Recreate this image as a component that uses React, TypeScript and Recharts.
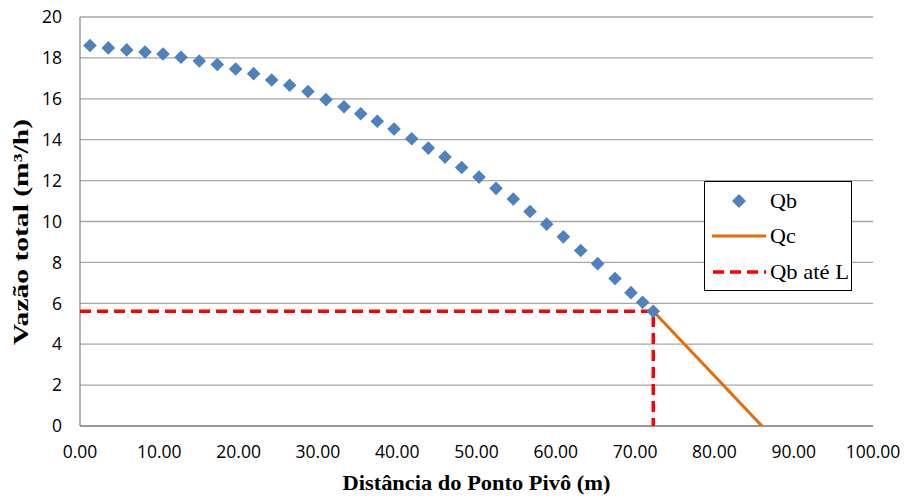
import React from 'react';
import {
  ScatterChart,
  Scatter,
  XAxis,
  YAxis,
  CartesianGrid,
  Legend
} from 'recharts';

// Qb - vazão por ponto ao longo da linha lateral
const qbDist = [
  1.26, 3.57, 5.89, 8.2, 10.47, 12.74, 15.04, 17.31, 19.63, 21.9, 24.17, 26.44,
  28.75, 31.02, 33.29, 35.4, 37.49, 39.6, 41.83, 43.92, 46.03, 48.13, 50.32,
  52.46, 54.64, 56.75, 58.85, 60.95, 63.14, 65.28, 67.47, 69.48, 70.95, 72.29
];
const qbVazao = [
  18.61, 18.49, 18.39, 18.29, 18.19, 18.03, 17.85, 17.68, 17.46, 17.23, 16.92,
  16.66, 16.36, 15.96, 15.61, 15.27, 14.9, 14.52, 14.05, 13.59, 13.15, 12.64,
  12.17, 11.62, 11.1, 10.49, 9.87, 9.25, 8.58, 7.94, 7.21, 6.52, 6.05, 5.61
];

// Qc - reta a partir de L
const qcDist = [72.29, 86.0];
const qcVazao = [5.61, 0];

// Qb até L - linhas tracejadas de referência
const refDist = [0, 72.29, 72.29];
const refVazao = [5.61, 5.61, 0];

const xTicks = [0, 10, 20, 30, 40, 50, 60, 70, 80, 90, 100];
const yTicks = [0, 2, 4, 6, 8, 10, 12, 14, 16, 18, 20];

const BLUE = '#4F81BD';
const ORANGE = '#E46C0A';
const RED = '#FF0000';
const TICK_FONT = '"Open Sans", sans-serif';
const TITLE_FONT = '"Liberation Serif", "Times New Roman", serif';

const toPoints = (xs: number[], ys: number[]) => xs.map((x, i) => ({ x, y: ys[i] }));

const qbData = toPoints(qbDist, qbVazao);
const qcData = toPoints(qcDist, qcVazao);
const refData = toPoints(refDist, refVazao);

const Diamond = (props: any) => {
  const { cx, cy } = props;
  if (cx == null || cy == null) return <g />;
  const r = 6.8;
  return (
    <path
      d={`M${cx},${cy - r}L${cx + r},${cy}L${cx},${cy + r}L${cx - r},${cy}Z`}
      fill={BLUE}
    />
  );
};

const NoShape = () => <g />;

const YTitle = () => (
  <text
    x={0}
    y={0}
    transform="translate(28, 232) rotate(-90)"
    textAnchor="middle"
    fontFamily={TITLE_FONT}
    fontWeight="bold"
    fontSize={21}
    fill="#000"
    textLength={226}
    lengthAdjust="spacingAndGlyphs"
  >
    Vazão total (m³/h)
  </text>
);

const XTitle = (props: any) => {
  const vb = props.viewBox || {};
  const cx = (vb.x || 0) + (vb.width || 0) / 2;
  return (
    <text
      x={cx}
      y={490}
      textAnchor="middle"
      fontFamily={TITLE_FONT}
      fontWeight="bold"
      fontSize={21}
      fill="#000"
      textLength={268}
      lengthAdjust="spacingAndGlyphs"
    >
      Distância do Ponto Pivô (m)
    </text>
  );
};

const LegendBox = () => (
  <div
    style={{
      width: 148,
      height: 110,
      border: '1px solid #000',
      background: '#fff',
      boxSizing: 'border-box'
    }}
  >
    <svg width={146} height={108} style={{ display: 'block' }}>
      <path d="M34,12L41,19L34,26L27,19Z" fill={BLUE} />
      <text x={65} y={26} fontFamily={TITLE_FONT} fontSize={22}>Qb</text>
      <line x1={7} y1={54} x2={61} y2={54} stroke={ORANGE} strokeWidth={3} />
      <text x={65} y={61} fontFamily={TITLE_FONT} fontSize={22}>Qc</text>
      <line x1={8} y1={90} x2={61} y2={90} stroke={RED} strokeWidth={3.5} strokeDasharray="11 6" />
      <text x={65} y={97} fontFamily={TITLE_FONT} fontSize={22} textLength={79} lengthAdjust="spacingAndGlyphs">
        Qb até L
      </text>
    </svg>
  </div>
);

const App: React.FC = () => {
  return (
    <div style={{ width: 905, height: 499, background: '#fff' }}>
      <style>{'body{margin:0}'}</style>
      <ScatterChart
        width={905}
        height={499}
        margin={{ top: 17, right: 32, bottom: 0, left: 0 }}
      >
        <CartesianGrid vertical={false} stroke="#A6A6A6" strokeWidth={1.3} />
        <XAxis
          type="number"
          dataKey="x"
          domain={[0, 100]}
          ticks={xTicks}
          allowDataOverflow
          height={73}
          tickSize={0}
          tickMargin={20}
          tickLine={false}
          axisLine={{ stroke: '#8C8C8C', strokeWidth: 1.3 }}
          tick={{ fill: '#000', fontSize: 17.5, fontFamily: TICK_FONT }}
          tickFormatter={(v: number) => v.toFixed(2)}
          label={<XTitle />}
        />
        <YAxis
          type="number"
          dataKey="y"
          domain={[0, 20]}
          ticks={yTicks}
          allowDataOverflow
          width={80}
          tickSize={0}
          tickMargin={18}
          tickLine={false}
          axisLine={{ stroke: '#8C8C8C', strokeWidth: 1.3 }}
          tick={{ fill: '#000', fontSize: 17.5, fontFamily: TICK_FONT }}
          label={<YTitle />}
        />
        <Legend
          layout="vertical"
          align="center"
          verticalAlign="middle"
          content={<LegendBox />}
          wrapperStyle={{ left: 704, top: 181, width: 148, height: 110 }}
        />
        <Scatter
          name="Qb até L"
          data={refData}
          line={{ stroke: RED, strokeWidth: 3.5, strokeDasharray: '11 6' }}
          lineType="joint"
          shape={<NoShape />}
          isAnimationActive={false}
        />
        <Scatter
          name="Qc"
          data={qcData}
          line={{ stroke: ORANGE, strokeWidth: 3 }}
          lineType="joint"
          shape={<NoShape />}
          isAnimationActive={false}
        />
        <Scatter
          name="Qb"
          data={qbData}
          shape={<Diamond />}
          isAnimationActive={false}
        />
      </ScatterChart>
    </div>
  );
};

export default App;
